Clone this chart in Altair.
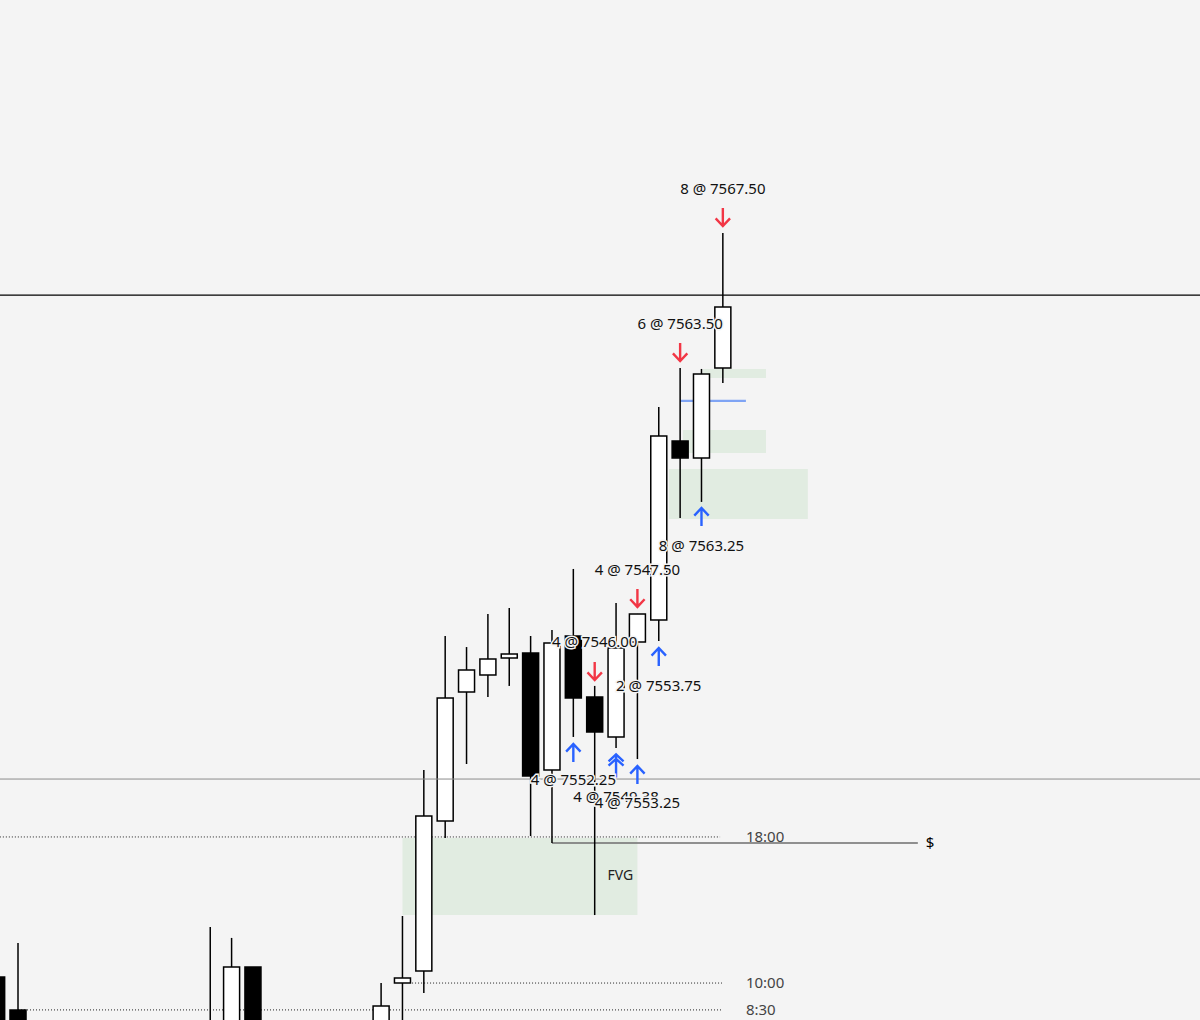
import altair as alt
import pandas as pd

# ---- candles (bar index, OHLC prices) ----
candle_idx = [-1, 0, 9, 10, 11, 17, 18, 19, 20, 21, 22, 23, 24, 25, 26, 27, 28, 29, 30, 31, 32, 33]
opens  = [7538.94, 7536.88, 7533.75, 7535.00, 7539.56, 7535.00, 7538.56, 7539.31, 7548.69, 7556.75, 7557.81,
          7558.88, 7559.19, 7551.88, 7560.25, 7556.44, 7553.94, 7559.88, 7561.25, 7572.44, 7571.38, 7577.00]
highs  = [7538.94, 7541.06, 7542.06, 7541.38, 7539.56, 7538.56, 7542.75, 7551.88, 7560.25, 7559.56, 7561.63,
          7562.00, 7560.25, 7560.63, 7564.44, 7557.13, 7562.31, 7561.63, 7574.56, 7577.00, 7576.94, 7585.44]
lows   = [7534.38, 7534.06, 7533.13, 7534.38, 7534.38, 7534.38, 7535.00, 7537.94, 7547.63, 7552.25, 7556.44,
          7557.13, 7547.75, 7547.31, 7553.94, 7542.81, 7553.25, 7552.56, 7559.94, 7567.63, 7568.63, 7576.06]
closes = [7535.00, 7534.69, 7535.63, 7539.56, 7535.00, 7537.13, 7538.88, 7549.00, 7556.38, 7558.13, 7558.81,
          7559.13, 7551.50, 7559.81, 7556.38, 7554.25, 7559.50, 7561.63, 7572.75, 7571.38, 7576.63, 7580.81]

# ---- shaded zones ----
zone_x1 = [18.0, 30.48, 31.13, 32.07]
zone_x2 = [29.0, 36.98, 35.02, 35.02]
zone_top = [7547.63, 7570.69, 7573.13, 7576.94]
zone_bot = [7542.81, 7567.56, 7571.69, 7576.38]

# ---- full-width levels ----
level_black = 7581.56
level_gray = 7551.31

# ---- session dotted levels ----
sess_labels = ["18:00", "10:00", "8:30"]
sess_price = [7547.69, 7538.56, 7536.88]
sess_start = [-0.85, 18.45, 0.0]
sess_end = [32.87, 32.96, 32.96]
sess_text_x = 34.08

# ---- $ level ----
dollar_price = 7547.31
dollar_start = 25.0
dollar_end = 42.13
dollar_text_x = 42.7

# ---- blue level ----
blue_price = 7574.94
blue_start = 31.0
blue_end = 34.08

# ---- FVG label ----
fvg_x = 28.2
fvg_price = 7545.25

# ---- executions ----
sell_x = [33, 31, 27, 29]
sell_p = [7586.44, 7578.00, 7558.06, 7562.63]
buy_x = [32, 30, 26, 29]
buy_p = [7567.69, 7558.94, 7552.94, 7551.56]
buy2_x = [28]
buy2_p = [7552.13]

label_text = ["8 @ 7567.50", "6 @ 7563.50", "8 @ 7563.25", "4 @ 7547.50", "4 @ 7546.00",
              "2 @ 7553.75", "4 @ 7552.25", "4 @ 7549.38"]
label_x = [33, 31, 32, 29, 27, 30, 26, 28]
label_p = [7588.19, 7579.75, 7565.88, 7564.38, 7559.88, 7557.13, 7551.25, 7550.19]
label2_text = ["4 @ 7553.25"]
label2_x = [29]
label2_p = [7549.81]

BG = "#f4f4f4"
W, H = 1200, 1020
xs = alt.Scale(domain=[-0.843, 55.34], nice=False, zero=False)
ys = alt.Scale(domain=[7536.25, 7600.0], nice=False, zero=False)


def X(f):
    return alt.X(f, type="quantitative", scale=xs, axis=None)


def Y(f):
    return alt.Y(f, type="quantitative", scale=ys, axis=None)


candles = pd.DataFrame({"i": candle_idx, "open": opens, "high": highs, "low": lows, "close": closes})
candles["up"] = candles["close"] >= candles["open"]
candles["x1"] = candles["i"] - 0.375
candles["x2"] = candles["i"] + 0.375
candles["btop"] = candles[["open", "close"]].max(axis=1)
candles["bbot"] = candles[["open", "close"]].min(axis=1)

zones = pd.DataFrame({"x1": zone_x1, "x2": zone_x2, "top": zone_top, "bot": zone_bot})
zone_layer = alt.Chart(zones).mark_rect(color="#e1ece1", clip=True).encode(
    x=X("x1"), x2=alt.X2("x2"), y=Y("top"), y2=alt.Y2("bot"))

sess = pd.DataFrame({"lab": sess_labels, "p": sess_price, "s": sess_start, "e": sess_end,
                     "tx": [sess_text_x] * 3})
sess_rules = alt.Chart(sess).mark_rule(color="#222", strokeWidth=1, strokeDash=[1, 2], clip=True).encode(
    x=X("s"), x2=alt.X2("e"), y=Y("p"))
sess_text = alt.Chart(sess).mark_text(align="left", baseline="middle", font="Noto Sans", fontSize=15,
                                      color="#444").encode(x=X("tx"), y=Y("p"), text="lab:N")

black_rule = alt.Chart(pd.DataFrame({"p": [level_black]})).mark_rule(color="#000", strokeWidth=1.2).encode(
    y=Y("p"), x=alt.value(0), x2=alt.value(W))
gray_rule = alt.Chart(pd.DataFrame({"p": [level_gray]})).mark_rule(color="#8c8c8c", strokeWidth=1).encode(
    y=Y("p"), x=alt.value(0), x2=alt.value(W))

dollar = pd.DataFrame({"p": [dollar_price], "s": [dollar_start], "e": [dollar_end], "tx": [dollar_text_x],
                       "t": ["$"]})
dollar_rule = alt.Chart(dollar).mark_rule(color="#6e6e6e", strokeWidth=1.4).encode(
    x=X("s"), x2=alt.X2("e"), y=Y("p"))
dollar_text = alt.Chart(dollar).mark_text(align="center", baseline="middle", font="Noto Sans", fontSize=15,
                                          color="#000").encode(x=X("tx"), y=Y("p"), text="t:N")

blue = pd.DataFrame({"p": [blue_price], "s": [blue_start], "e": [blue_end]})
blue_rule = alt.Chart(blue).mark_rule(color="#7fa4f4", strokeWidth=2.2).encode(
    x=X("s"), x2=alt.X2("e"), y=Y("p"))

fvg = pd.DataFrame({"x": [fvg_x], "p": [fvg_price], "t": ["FVG"]})
fvg_text = alt.Chart(fvg).mark_text(align="center", baseline="middle", font="Noto Sans", fontSize=14,
                                    color="#222").encode(x=X("x"), y=Y("p"), text="t:N")

wicks = alt.Chart(candles).mark_rule(color="#000", strokeWidth=1.5, clip=True).encode(
    x=X("i"), y=Y("low"), y2=alt.Y2("high"))
bodies = alt.Chart(candles).mark_rect(stroke="#000", strokeWidth=1.5, clip=True).encode(
    x=X("x1"), x2=alt.X2("x2"), y=Y("btop"), y2=alt.Y2("bbot"),
    fill=alt.Fill("up:N", scale=alt.Scale(domain=[True, False], range=["#ffffff", "#000000"]), legend=None))

DOWN = "M0,-1L0,1M-0.8,0.15L0,1L0.8,0.15"
UP = "M0,1L0,-1M-0.8,-0.15L0,-1L0.8,-0.15"
UP2 = "M0,1L0,-1M-0.65,-0.4L0,-1L0.65,-0.4M-0.65,-0.02L0,-0.62L0.65,-0.02"

sells = alt.Chart(pd.DataFrame({"x": sell_x, "p": sell_p})).mark_point(
    shape=DOWN, size=324, filled=False, stroke="#f23645", strokeWidth=2.4, opacity=1).encode(x=X("x"), y=Y("p"))
buys = alt.Chart(pd.DataFrame({"x": buy_x, "p": buy_p})).mark_point(
    shape=UP, size=324, filled=False, stroke="#2962ff", strokeWidth=2.4, opacity=1).encode(x=X("x"), y=Y("p"))
buys2 = alt.Chart(pd.DataFrame({"x": buy2_x, "p": buy2_p})).mark_point(
    shape=UP2, size=530, filled=False, stroke="#2962ff", strokeWidth=2.4, opacity=1).encode(x=X("x"), y=Y("p"))


def labels(txt, xx, pp):
    d = pd.DataFrame({"t": txt, "x": xx, "p": pp})
    base = alt.Chart(d)
    halo = base.mark_text(align="center", baseline="middle", font="Noto Sans", fontSize=15,
                          stroke=BG, strokeWidth=3, color=BG).encode(x=X("x"), y=Y("p"), text="t:N")
    fg = base.mark_text(align="center", baseline="middle", font="Noto Sans", fontSize=15,
                        color="#111").encode(x=X("x"), y=Y("p"), text="t:N")
    return [halo, fg]


layers = [zone_layer, sess_rules, blue_rule, black_rule, dollar_rule, wicks, bodies, gray_rule,
          fvg_text, sess_text, dollar_text, sells, buys, buys2]
layers += labels(label_text, label_x, label_p)
layers += labels(label2_text, label2_x, label2_p)

chart = alt.layer(*layers).properties(
    width=W, height=H, autosize=alt.AutoSizeParams(type="none"), padding=0, background=BG
).configure_view(stroke=None)

chart.save("out.html", embed_options={"renderer": "svg", "actions": False})
